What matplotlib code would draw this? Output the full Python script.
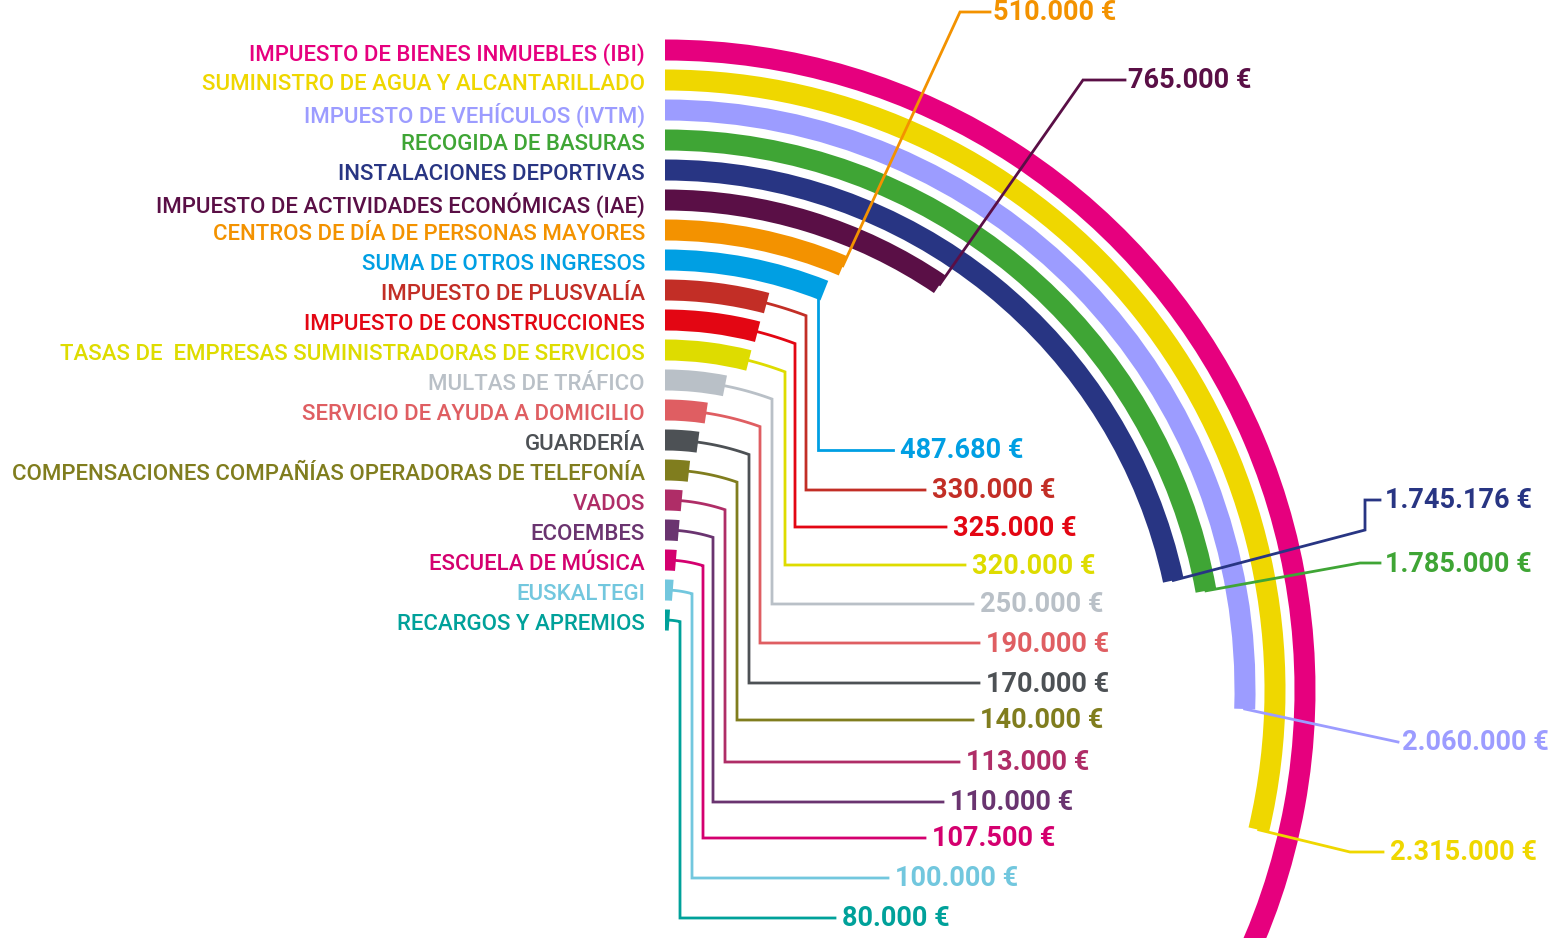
import numpy as np
import matplotlib.pyplot as plt
from matplotlib.patches import Wedge

plt.rcParams['font.family'] = ['Roboto', 'DejaVu Sans']

# datos (euros)
conceptos = [
    'IMPUESTO DE BIENES INMUEBLES (IBI)',
    'SUMINISTRO DE AGUA Y ALCANTARILLADO',
    'IMPUESTO DE VEHÍCULOS (IVTM)',
    'RECOGIDA DE BASURAS',
    'INSTALACIONES DEPORTIVAS',
    'IMPUESTO DE ACTIVIDADES ECONÓMICAS (IAE)',
    'CENTROS DE DÍA DE PERSONAS MAYORES',
    'SUMA DE OTROS INGRESOS',
    'IMPUESTO DE PLUSVALÍA',
    'IMPUESTO DE CONSTRUCCIONES',
    'TASAS DE  EMPRESAS SUMINISTRADORAS DE SERVICIOS',
    'MULTAS DE TRÁFICO',
    'SERVICIO DE AYUDA A DOMICILIO',
    'GUARDERÍA',
    'COMPENSACIONES COMPAÑÍAS OPERADORAS DE TELEFONÍA',
    'VADOS',
    'ECOEMBES',
    'ESCUELA DE MÚSICA',
    'EUSKALTEGI',
    'RECARGOS Y APREMIOS',
]
importes = [3000000, 2315000, 2060000, 1785000, 1745176, 765000, 510000,
            487680, 330000, 325000, 320000, 250000, 190000, 170000, 140000,
            113000, 110000, 107500, 100000, 80000]
etiquetas = [None, '2.315.000 €', '2.060.000 €', '1.785.000 €', '1.745.176 €',
             '765.000 €', '510.000 €', '487.680 €', '330.000 €', '325.000 €',
             '320.000 €', '250.000 €', '190.000 €', '170.000 €', '140.000 €',
             '113.000 €', '110.000 €', '107.500 €', '100.000 €', '80.000 €']
colores = ['#E6007E', '#EFD700', '#9C9CFF', '#3FA535', '#283583', '#5A0F46',
           '#F39200', '#009FE3', '#C22E26', '#E30613', '#DEDC00', '#B9C0C7',
           '#DF5E62', '#4D5155', '#807D1E', '#AF2D67', '#6A3470', '#D4006F',
           '#72C7DE', '#00A19A']

# escala: grados por euro
grados_por_euro = 44.6 / 1e6

# geometria (pixeles)
cx, cy = 665, 690
r0, paso, grosor = 640, 30, 21

# posicion de los importes: (puntos, x texto, y texto) o (x codo, x texto, y texto)
guias = [
    None,
    ([(1350, 852), (1383, 852)], 1390, 852),
    ([(1398, 742)], 1402, 742),
    ([(1360, 563), (1380, 563)], 1385, 563),
    ([(1365, 530), (1365, 500), (1380, 500)], 1385, 500),
    ([(1083, 80), (1125, 80)], 1128, 80),
    ([(960, 12), (990, 12)], 993, 12),
    (818, 900, 450),
    (806, 932, 490),
    (795, 953, 527),
    (785, 972, 565),
    (772, 980, 604),
    (760, 986, 643),
    (749, 986, 683),
    (737, 980, 720),
    (725, 966, 762),
    (713, 950, 802),
    (703, 932, 838),
    (692, 895, 878),
    (680, 842, 918),
]

fig = plt.figure(figsize=(15.51, 9.38), dpi=100)
ax = fig.add_axes([0, 0, 1, 1])
ax.set_xlim(0, 1551)
ax.set_ylim(938, 0)
ax.axis('off')

for i, (nombre, valor, col) in enumerate(zip(conceptos, importes, colores)):
    r = r0 - paso * i
    ang = valor * grados_por_euro
    ax.add_patch(Wedge((cx, cy), r + grosor / 2, -90, -90 + ang,
                       width=grosor, facecolor=col, edgecolor='none', zorder=2))
    ax.text(645, cy - r + 5, nombre, ha='right', va='center', color=col,
            fontsize=16, fontweight='medium')

    g = guias[i]
    if g is None:
        continue
    t = np.radians(ang)
    ex, ey = cx + r * np.sin(t), cy - r * np.cos(t)
    if isinstance(g[0], list):
        pts, tx, ty = g
        xs = [ex] + [p[0] for p in pts]
        ys = [ey] + [p[1] for p in pts]
    else:
        vx, tx, ty = g
        if vx <= ex:
            xs = [vx, vx, tx - 7]
            ys = [ey, ty, ty]
        else:
            tt = np.linspace(t, np.arcsin((vx - cx) / r), 20)
            xs = list(cx + r * np.sin(tt)) + [vx, tx - 7]
            ys = list(cy - r * np.cos(tt)) + [ty, ty]
    ax.plot(xs, ys, color=col, lw=2, zorder=3, solid_joinstyle='miter')
    ax.text(tx, ty + 1, etiquetas[i], ha='left', va='center', color=col,
            fontsize=19.5, fontweight='bold')

fig.savefig('out.png', dpi=100, facecolor='white')
